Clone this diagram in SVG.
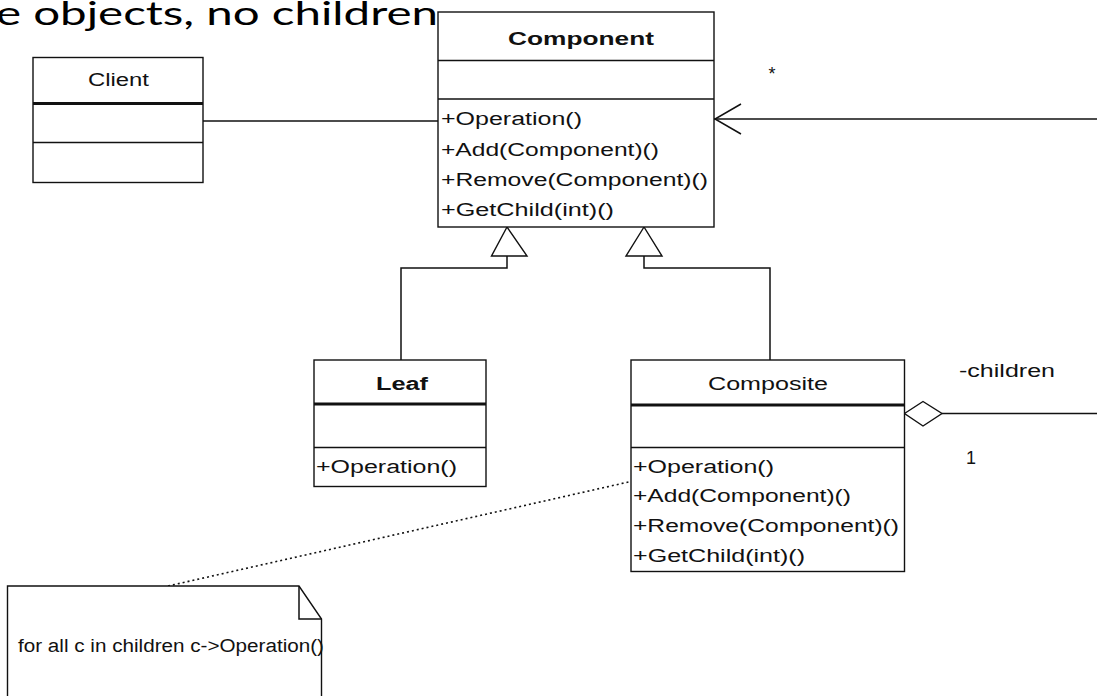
<svg xmlns="http://www.w3.org/2000/svg" width="1097" height="696" viewBox="0 0 1097 696">
<style>
.box{fill:#fff;stroke:#111;stroke-width:1.4}
.sep{stroke:#111;stroke-width:1.4}
.thick{stroke:#111;stroke-width:3}
.ln{fill:none;stroke:#111;stroke-width:1.5}
.t{font-family:"Liberation Sans",Arial,sans-serif;font-size:18px;fill:#111}
.b{font-weight:bold}
.title{font-family:Lato,"Open Sans",sans-serif;font-size:33px;fill:#000}
</style>
<rect width="1097" height="696" fill="#fff"/>
<text class="title" x="-4" y="25" textLength="442" lengthAdjust="spacingAndGlyphs">e objects, no children</text>

<g id="connectors">
  <line class="ln" x1="203" y1="121" x2="438" y2="121"/>
  <line class="ln" x1="714" y1="119" x2="1097" y2="119"/>
  <polyline class="ln" points="741,104 715,119 741,134"/>
  <text class="t" x="772" y="80" text-anchor="middle">*</text>
  <polygon class="box" points="507,227 491.5,256 527,256"/>
  <polyline class="ln" points="507,256 507,268 401,268 401,360"/>
  <polygon class="box" points="644,227 626,256 662,256"/>
  <polyline class="ln" points="644,256 644,268 770,268 770,360"/>
  <polygon class="box" points="904.5,413.5 923,401.5 942,413.5 923,426"/>
  <line class="ln" x1="942" y1="413.5" x2="1097" y2="413.5"/>
  <text class="t" x="959" y="377" textLength="96" lengthAdjust="spacingAndGlyphs">-children</text>
  <text class="t" x="966" y="463.5">1</text>
  <line x1="168" y1="586" x2="633" y2="481" stroke="#111" stroke-width="1.6" stroke-dasharray="2,3"/>
</g>

<g id="client">
  <rect class="box" x="33" y="57.5" width="170" height="125"/>
  <line class="thick" x1="33" y1="103.5" x2="203" y2="103.5"/>
  <line class="sep" x1="33" y1="142.5" x2="203" y2="142.5"/>
  <text class="t" x="118.5" y="86" text-anchor="middle" textLength="61" lengthAdjust="spacingAndGlyphs">Client</text>
</g>

<g id="component">
  <rect class="box" x="438" y="12" width="276" height="215"/>
  <line class="sep" x1="438" y1="60.5" x2="714" y2="60.5"/>
  <line class="sep" x1="438" y1="99" x2="714" y2="99"/>
  <text class="t b" x="508" y="45" textLength="146" lengthAdjust="spacingAndGlyphs">Component</text>
  <text class="t" x="441" y="125" textLength="141" lengthAdjust="spacingAndGlyphs">+Operation()</text>
  <text class="t" x="441" y="155.5" textLength="218" lengthAdjust="spacingAndGlyphs">+Add(Component)()</text>
  <text class="t" x="441" y="186" textLength="267" lengthAdjust="spacingAndGlyphs">+Remove(Component)()</text>
  <text class="t" x="441" y="215.5" textLength="173" lengthAdjust="spacingAndGlyphs">+GetChild(int)()</text>
</g>

<g id="leaf">
  <rect class="box" x="314" y="360" width="172" height="126.5"/>
  <line class="thick" x1="314" y1="404" x2="486" y2="404"/>
  <line class="sep" x1="314" y1="447.5" x2="486" y2="447.5"/>
  <text class="t b" x="376" y="389.5" textLength="52" lengthAdjust="spacingAndGlyphs">Leaf</text>
  <text class="t" x="316" y="473" textLength="141" lengthAdjust="spacingAndGlyphs">+Operation()</text>
</g>

<g id="composite">
  <rect class="box" x="631" y="360" width="273.5" height="211.5"/>
  <line class="thick" x1="631" y1="405" x2="904.5" y2="405"/>
  <line class="sep" x1="631" y1="447.5" x2="904.5" y2="447.5"/>
  <text class="t" x="708" y="389.5" textLength="120" lengthAdjust="spacingAndGlyphs">Composite</text>
  <text class="t" x="633" y="473" textLength="141" lengthAdjust="spacingAndGlyphs">+Operation()</text>
  <text class="t" x="633" y="502" textLength="218" lengthAdjust="spacingAndGlyphs">+Add(Component)()</text>
  <text class="t" x="633" y="532" textLength="266" lengthAdjust="spacingAndGlyphs">+Remove(Component)()</text>
  <text class="t" x="633" y="561.5" textLength="172" lengthAdjust="spacingAndGlyphs">+GetChild(int)()</text>
</g>

<g id="note">
  <path class="box" d="M7.5,700 V586 H299 L321.5,619 V700"/>
  <polyline class="ln" points="299,586 299,619 321.5,619"/>
  <text class="t" x="18" y="651.5" textLength="306" lengthAdjust="spacingAndGlyphs">for all c in children c-&gt;Operation()</text>
</g>
</svg>
